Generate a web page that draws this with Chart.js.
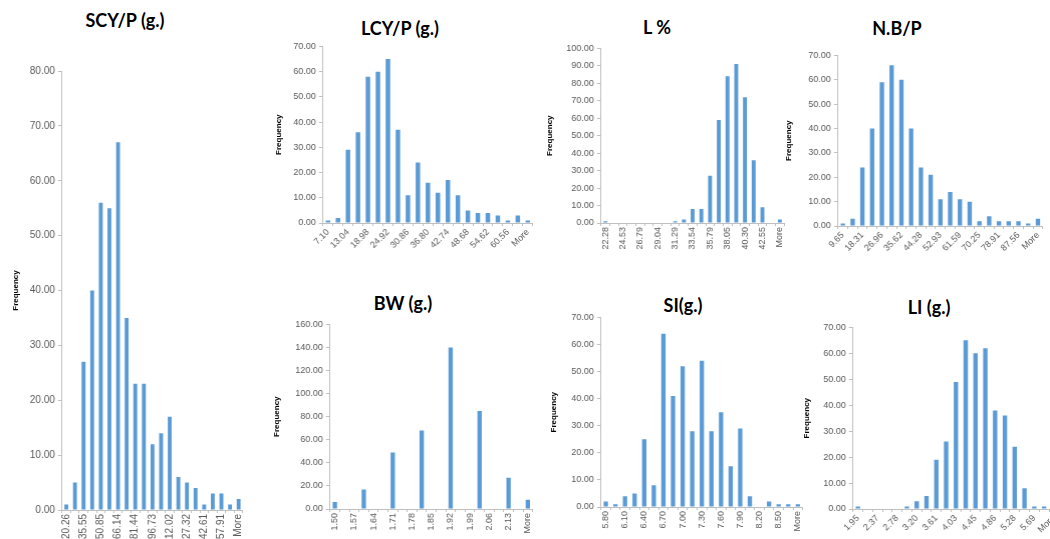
<!DOCTYPE html>
<html>
<head>
<meta charset="utf-8">
<script src="https://cdn.jsdelivr.net/npm/chart.js@4.4.1/dist/chart.umd.min.js"></script>
<style>
  html, body { margin: 0; padding: 0; background: #fff; overflow: hidden; }
  body { width: 1050px; height: 539px; position: relative; }
  .panel { position: absolute; }
  .title {
    position: absolute; transform: translate(-50%, -50%);
    font-family: Lato, "Open Sans", sans-serif; font-weight: 700; font-size: 18px;
    color: #000; white-space: nowrap;
  }
</style>
</head>
<body>
<div class="title" style="left:125px;top:20px">SCY/P (g.)</div>
<div class="title" style="left:400px;top:28px">LCY/P (g.)</div>
<div class="title" style="left:657px;top:27px">L %</div>
<div class="title" style="left:897px;top:28px">N.B/P</div>
<div class="title" style="left:403px;top:303px">BW (g.)</div>
<div class="title" style="left:683px;top:305px">SI(g.)</div>
<div class="title" style="left:929px;top:307px">LI (g.)</div>

<div class="panel" id="p-scy"><canvas id="c-scy"></canvas></div>
<div class="panel" id="p-lcy"><canvas id="c-lcy"></canvas></div>
<div class="panel" id="p-lp"><canvas id="c-lp"></canvas></div>
<div class="panel" id="p-nbp"><canvas id="c-nbp"></canvas></div>
<div class="panel" id="p-bw"><canvas id="c-bw"></canvas></div>
<div class="panel" id="p-si"><canvas id="c-si"></canvas></div>
<div class="panel" id="p-li"><canvas id="c-li"></canvas></div>

<script>
  "use strict";

  // histogram bins (Excel upper bounds) and frequencies
  const scyBins = ["20.26", "27.90", "35.55", "43.20", "50.85", "58.49", "66.14", "73.79", "81.44", "89.08", "96.73",
    "104.38", "112.02", "119.67", "127.32", "134.97", "142.61", "150.26", "157.91", "165.55", "More"];
  const scyFreq = [1, 5, 27, 40, 56, 55, 67, 35, 23, 23, 12, 14, 17, 6, 5, 4, 1, 3, 3, 1, 2];

  const lcyBins = ["7.10", "10.07", "13.04", "16.01", "18.98", "21.95", "24.92", "27.89", "30.86", "33.83", "36.80",
    "39.77", "42.74", "45.71", "48.68", "51.65", "54.62", "57.59", "60.56", "63.53", "More"];
  const lcyFreq = [1, 2, 29, 36, 58, 60, 65, 37, 11, 24, 16, 12, 17, 11, 5, 4, 4, 3, 1, 3, 1];

  const lpBins = ["22.28", "23.41", "24.53", "25.66", "26.79", "27.91", "29.04", "30.17", "31.29", "32.42", "33.54",
    "34.67", "35.79", "36.92", "38.05", "39.17", "40.30", "41.42", "42.55", "43.68", "More"];
  const lpFreq = [1, 0, 0, 0, 0, 0, 0, 0, 1, 2, 8, 8, 27, 59, 84, 91, 72, 36, 9, 0, 2];

  const nbpBins = ["9.65", "13.98", "18.31", "22.63", "26.96", "31.29", "35.62", "39.95", "44.28", "48.60", "52.93",
    "57.26", "61.59", "65.92", "70.25", "74.58", "78.91", "83.23", "87.56", "91.89", "More"];
  const nbpFreq = [1, 3, 24, 40, 59, 66, 60, 40, 24, 21, 11, 14, 11, 10, 2, 4, 2, 2, 2, 1, 3];

  const bwBins = ["1.50", "1.54", "1.57", "1.61", "1.64", "1.68", "1.71", "1.75", "1.78", "1.82", "1.85",
    "1.89", "1.92", "1.96", "1.99", "2.03", "2.06", "2.10", "2.13", "2.17", "More"];
  const bwFreq = [6, 0, 0, 17, 0, 0, 49, 0, 0, 68, 0, 0, 140, 0, 0, 85, 0, 0, 27, 0, 8];

  const siBins = ["5.80", "5.95", "6.10", "6.25", "6.40", "6.55", "6.70", "6.85", "7.00", "7.15", "7.30",
    "7.45", "7.60", "7.75", "7.90", "8.05", "8.20", "8.35", "8.50", "8.65", "More"];
  const siFreq = [2, 1, 4, 5, 25, 8, 64, 41, 52, 28, 54, 28, 35, 15, 29, 4, 0, 2, 1, 1, 1];

  const liBins = ["1.95", "2.16", "2.37", "2.57", "2.78", "2.99", "3.20", "3.40", "3.61", "3.82", "4.03",
    "4.24", "4.45", "4.65", "4.86", "5.07", "5.28", "5.49", "5.69", "5.90", "More"];
  const liFreq = [1, 0, 0, 0, 0, 1, 3, 5, 19, 26, 49, 65, 60, 62, 38, 36, 24, 8, 1, 1, 1];

  const BAR = "#5b9bd5";
  const AXIS = "#bfbfbf";
  const TICK = "#595959";
  const FONT = "'Liberation Sans', Arial, sans-serif";
  const PAD_TOP = 8, PAD_RIGHT = 6, X_H = 46;

  // L/R/T/B = plot area in page pixels, fx = centre of the "Frequency" label
  function histogram(id, bins, freq, o) {
    const left = o.fx - 6.8;
    const yw = o.L - left;
    const fs = o.fs || 9;
    const box = document.getElementById("p-" + id);
    box.style.left = left + "px";
    box.style.top = (o.T - PAD_TOP) + "px";
    box.style.width = (o.R - left + PAD_RIGHT) + "px";
    box.style.height = (o.B - o.T + PAD_TOP + X_H) + "px";

    return new Chart(document.getElementById("c-" + id), {
      type: "bar",
      data: {
        labels: bins,
        datasets: [{
          data: freq,
          backgroundColor: BAR,
          borderWidth: 0,
          barPercentage: 0.45,
          categoryPercentage: 1,
        }],
      },
      options: {
        responsive: true,
        maintainAspectRatio: false,
        animation: false,
        layout: { padding: { top: PAD_TOP, right: PAD_RIGHT, left: 0, bottom: 0 } },
        plugins: { legend: { display: false }, tooltip: { enabled: false } },
        scales: {
          x: {
            offset: true,
            grid: { offset: true, drawOnChartArea: false, drawTicks: true, tickLength: 3, color: AXIS },
            border: { color: AXIS },
            ticks: {
              autoSkip: false,
              minRotation: o.rot,
              maxRotation: o.rot,
              padding: 1,
              color: TICK,
              font: { family: FONT, size: fs },
              callback(v, i) { return i % 2 ? "" : this.getLabelForValue(v); },
            },
            afterFit(s) { s.height = X_H; },
          },
          y: {
            min: 0,
            max: o.max,
            grid: { drawOnChartArea: false, drawTicks: true, tickLength: 4, color: AXIS },
            border: { color: AXIS },
            ticks: {
              stepSize: o.step,
              padding: 3,
              color: TICK,
              font: { family: FONT, size: fs },
              callback: (v) => v.toFixed(2),
            },
            title: {
              display: true,
              text: "Frequency",
              color: "#000",
              padding: { top: 2, bottom: 0 },
              font: { family: FONT, size: 8, weight: "bold" },
            },
            afterFit(s) { s.width = yw; },
          },
        },
      },
    });
  }

  histogram("scy", scyBins, scyFreq, { L: 62, R: 245, T: 70, B: 510, fx: 16, max: 80, step: 10, rot: 90, fs: 10 });
  histogram("lcy", lcyBins, lcyFreq, { L: 323, R: 532, T: 46, B: 223, fx: 279, max: 70, step: 10, rot: 45 });
  histogram("lp", lpBins, lpFreq, { L: 601, R: 785, T: 48, B: 223, fx: 550, max: 100, step: 10, rot: 90 });
  histogram("nbp", nbpBins, nbpFreq, { L: 838, R: 1042, T: 55, B: 226, fx: 789, max: 70, step: 10, rot: 45 });
  histogram("bw", bwBins, bwFreq, { L: 330, R: 533, T: 324, B: 509, fx: 277, max: 160, step: 20, rot: 90 });
  histogram("si", siBins, siFreq, { L: 601, R: 803, T: 317, B: 507, fx: 554, max: 70, step: 10, rot: 90 });
  histogram("li", liBins, liFreq, { L: 853, R: 1058, T: 327, B: 509, fx: 807, max: 70, step: 10, rot: 45 });
</script>
</body>
</html>
